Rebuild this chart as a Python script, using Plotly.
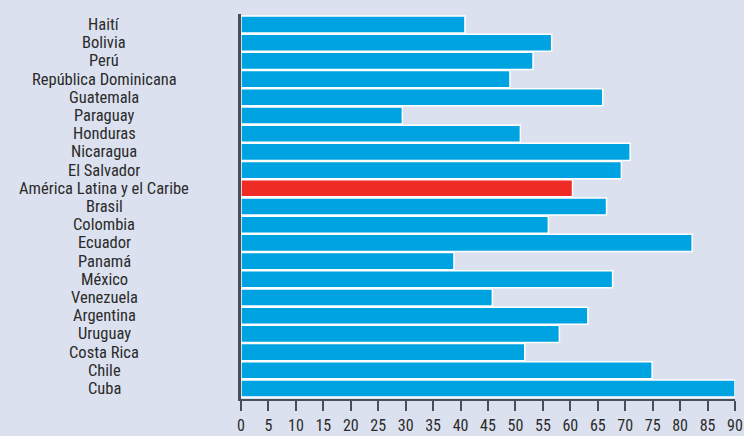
import plotly.graph_objects as go

countries = ["Haití", "Bolivia", "Perú", "República Dominicana", "Guatemala", "Paraguay",
             "Honduras", "Nicaragua", "El Salvador", "América Latina y el Caribe", "Brasil",
             "Colombia", "Ecuador", "Panamá", "México", "Venezuela", "Argentina", "Uruguay",
             "Costa Rica", "Chile", "Cuba"]
values = [40.8, 56.6, 53.2, 49.0, 65.9, 29.4, 50.9, 70.9, 69.3, 60.4, 66.6,
          56.0, 82.2, 38.8, 67.7, 45.8, 63.2, 58.0, 51.7, 74.9, 90.0]
highlight = "América Latina y el Caribe"
x_ticks = list(range(0, 95, 5))

BLUE = "#00a3e2"
RED = "#ee2b24"
BG = "#dce1ef"
FONT = "Liberation Sans Narrow, Roboto Condensed, Arial Narrow, Roboto, sans-serif"
TXT = "#2b2b2b"

colors = [RED if c == highlight else BLUE for c in countries]

fig = go.Figure()
fig.add_trace(go.Bar(
    y=countries, x=values, orientation="h",
    marker=dict(color=colors, line=dict(color="white", width=1.5)),
    hoverinfo="x+y",
))

for c in countries:
    fig.add_annotation(x=-0.277, xref="paper", y=c, yref="y", text=c,
                       showarrow=False, xanchor="center", yanchor="middle",
                       height=17, valign="middle",
                       font=dict(family=FONT, size=16.5, color=TXT))

fig.update_layout(
    width=744, height=436,
    margin=dict(l=241, r=9, t=14, b=37, autoexpand=False),
    paper_bgcolor=BG, plot_bgcolor=BG,
    bargap=0.06,
    showlegend=False,
    font=dict(family=FONT, size=16, color=TXT),
)
fig.update_xaxes(range=[0, 90], tickvals=x_ticks, ticktext=[str(v) for v in x_ticks],
                 showgrid=False, zeroline=False, showline=True, linecolor="#4a4f55",
                 linewidth=2, ticks="outside", ticklen=10, tickwidth=1.5,
                 tickcolor="#4a4f55", fixedrange=True, automargin=False,
                 ticklabelstandoff=1,
                 tickfont=dict(family=FONT, size=16, color=TXT))
fig.update_yaxes(categoryorder="array", categoryarray=countries, autorange="reversed",
                 showticklabels=False, showgrid=False, zeroline=False, showline=True,
                 linecolor="#4a4f55", linewidth=3, ticks="", fixedrange=True,
                 automargin=False)

fig.write_html("out.html", config={"displayModeBar": False},
               post_script="document.body.style.margin='0';document.body.style.padding='0';")
